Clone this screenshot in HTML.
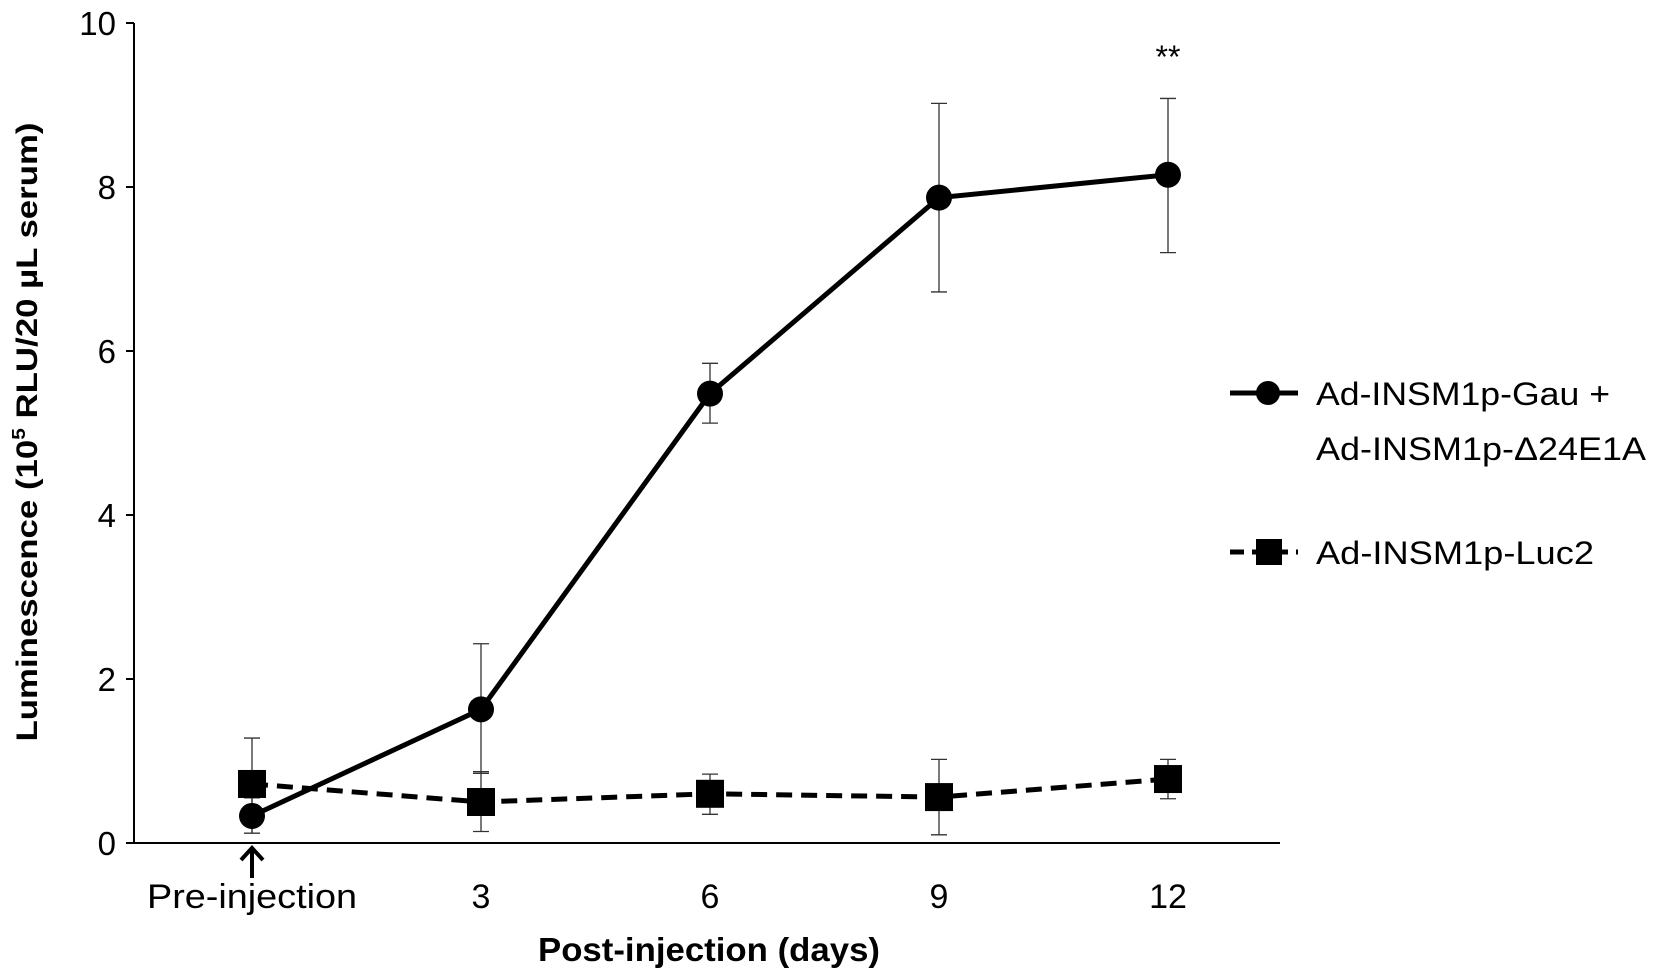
<!DOCTYPE html>
<html><head><meta charset="utf-8"><style>
html,body{margin:0;padding:0;background:#fff;}
svg{display:block;font-family:"Liberation Sans",sans-serif;}
</style></head><body>
<svg id="chart" width="1654" height="977" viewBox="0 0 1654 977">
<g id="axes"></g>
<g id="marks"></g>
<g id="legend">
  <line x1="1230" y1="393" x2="1298" y2="393" stroke="#000" stroke-width="5"/>
  <circle cx="1268" cy="393" r="12" fill="#000"/>
  <text x="1316" y="405" font-size="32" textLength="294" lengthAdjust="spacingAndGlyphs">Ad-INSM1p-Gau +</text>
  <text x="1316" y="460" font-size="32" textLength="330" lengthAdjust="spacingAndGlyphs">Ad-INSM1p-Δ24E1A</text>
  <line x1="1230" y1="552" x2="1298" y2="552" stroke="#000" stroke-width="5" stroke-dasharray="14,8"/>
  <rect x="1256" y="539" width="26" height="26" fill="#000"/>
  <text x="1316" y="564" font-size="32" textLength="278" lengthAdjust="spacingAndGlyphs">Ad-INSM1p-Luc2</text>
</g>
</svg>
<script>
const categories = ["Pre-injection","3","6","9","12"];
const yTicks = [0,2,4,6,8,10];
const gauMean = [0.33,1.63,5.48,7.87,8.15];
const gauHigh = [0.55,2.43,5.85,9.02,9.08];
const gauLow = [0.12,0.85,5.12,6.72,7.2];
const lucMean = [0.72,0.5,0.6,0.56,0.78];
const lucHigh = [1.28,0.87,0.84,1.02,1.02];
const lucLow = [0.12,0.14,0.35,0.1,0.54];
const NS="http://www.w3.org/2000/svg";
const x0=252, dx=229, yBase=843, yTop=23, yMax=10;
const X=i=>x0+i*dx;
const Y=v=>yBase-(v/yMax)*(yBase-yTop);
function mk(tag,attrs,parent,txt){const e=document.createElementNS(NS,tag);for(const k in attrs)e.setAttribute(k,attrs[k]);if(txt!==undefined)e.textContent=txt;parent.appendChild(e);return e;}
const axes=document.getElementById('axes'), marks=document.getElementById('marks');
let e;
e=mk('line',{x1:134,y1:yTop,x2:134,y2:yBase,stroke:'#000','stroke-width':2},axes);


e=mk('line',{x1:126,y1:yBase,x2:1280,y2:yBase,stroke:'#000','stroke-width':2},axes);


yTicks.forEach(t=>{
  e=mk('line',{x1:126,y1:Y(t),x2:134,y2:Y(t),stroke:'#000','stroke-width':2},axes);
  
  
  e=mk('text',{x:116,y:Y(t)+12,'font-size':33,'text-anchor':'end'},axes,String(t));
  
  
});
categories.forEach((c,i)=>{
  e=mk('text',{x:X(i),y:908,'font-size':34,'text-anchor':'middle'},axes,c);
  if(i===0){e.setAttribute('textLength','210');e.setAttribute('lengthAdjust','spacingAndGlyphs');}
  
  
});
e=mk('path',{d:`M${X(0)} 878 L${X(0)} 848 M${X(0)-11} 860 L${X(0)} 848 L${X(0)+11} 860`,stroke:'#000','stroke-width':4,fill:'none'},axes);


e=mk('text',{x:709,y:961,'font-size':33,'font-weight':'bold','text-anchor':'middle',textLength:342,lengthAdjust:'spacingAndGlyphs'},axes,'Post-injection (days)');


e=mk('text',{x:0,y:0,'font-size':30,'font-weight':'bold','text-anchor':'middle',textLength:619,lengthAdjust:'spacingAndGlyphs',transform:'translate(37,432) rotate(-90)'},axes);


e.innerHTML='Luminescence (10<tspan font-size="18" dy="-12">5</tspan><tspan dy="12"> RLU/20 µL serum)</tspan>';
e=mk('text',{x:X(4),y:Y(9.45),'font-size':32,'text-anchor':'middle'},axes,'**');


function errs(mean,hi,lo,name){
  mean.forEach((m,i)=>{
    e=mk('path',{d:`M${X(i)} ${Y(hi[i])} L${X(i)} ${Y(lo[i])} M${X(i)-8} ${Y(hi[i])} L${X(i)+8} ${Y(hi[i])} M${X(i)-8} ${Y(lo[i])} L${X(i)+8} ${Y(lo[i])}`,stroke:'#333','stroke-width':1.3,fill:'none'},marks);
    
    
  });
}
errs(lucMean,lucHigh,lucLow,'luc2');
errs(gauMean,gauHigh,gauLow,'gau');
e=mk('polyline',{points:lucMean.map((v,i)=>X(i)+','+Y(v)).join(' '),fill:'none',stroke:'#000','stroke-width':5,'stroke-dasharray':'16,9'},marks);


lucMean.forEach((v,i)=>{
  e=mk('rect',{x:X(i)-14,y:Y(v)-14,width:28,height:28,fill:'#000'},marks);
  
  
});
e=mk('polyline',{points:gauMean.map((v,i)=>X(i)+','+Y(v)).join(' '),fill:'none',stroke:'#000','stroke-width':5},marks);


gauMean.forEach((v,i)=>{
  e=mk('circle',{cx:X(i),cy:Y(v),r:13,fill:'#000'},marks);
  
  
});
</script>
</body></html>
